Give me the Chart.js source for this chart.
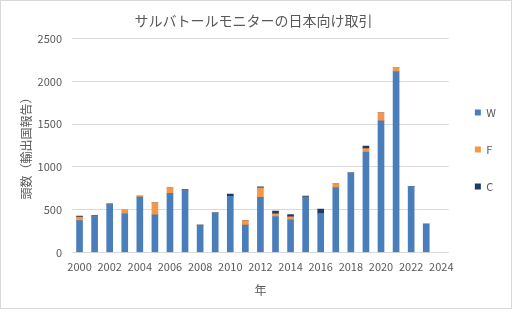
<!DOCTYPE html>
<html>
<head>
<meta charset="utf-8">
<script src="https://cdn.jsdelivr.net/npm/chart.js@4"></script>
<style>
  html, body { margin: 0; padding: 0; background: #ffffff; }
  #wrap { position: absolute; left: 0; top: 0; width: 512px; height: 309px; box-sizing: border-box; border: 1px solid #d9d9d9; background: #fff; }
  canvas { display: block; }
</style>
</head>
<body>
<div id="wrap"><canvas id="c" width="510" height="307"></canvas></div>
<script>
const years = [2000, 2001, 2002, 2003, 2004, 2005, 2006, 2007, 2008, 2009, 2010, 2011,
               2012, 2013, 2014, 2015, 2016, 2017, 2018, 2019, 2020, 2021, 2022, 2023];
const seriesW = [372, 420, 560, 452, 648, 440, 692, 724, 320, 464, 656, 320,
                 644, 420, 380, 648, 452, 760, 932, 1175, 1540, 2117, 772, 332];
const seriesF = [40, 0, 0, 44, 12, 140, 68, 0, 0, 0, 0, 52,
                 112, 30, 36, 0, 0, 44, 0, 40, 95, 47, 0, 0];
const seriesC = [12, 12, 8, 0, 0, 0, 0, 12, 0, 0, 28, 0,
                 12, 35, 28, 12, 56, 0, 0, 28, 0, 0, 0, 0];
const xTicks = [2000, 2002, 2004, 2006, 2008, 2010, 2012, 2014, 2016, 2018, 2020, 2022, 2024];
const yTicks = [0, 500, 1000, 1500, 2000, 2500];

const FONT = '"Noto Sans CJK JP", "Noto Sans", sans-serif';
const GREY = '#595959';

function pts(vals) { return years.map((y, i) => ({ x: y, y: vals[i] })); }

new Chart(document.getElementById('c'), {
  type: 'bar',
  data: {
    datasets: [
      { label: 'W', data: pts(seriesW), backgroundColor: '#4a7ebb', barThickness: 6 },
      { label: 'F', data: pts(seriesF), backgroundColor: '#f79646', barThickness: 6 },
      { label: 'C', data: pts(seriesC), backgroundColor: '#1f3a68', barThickness: 6 }
    ]
  },
  options: {
    responsive: false,
    animation: false,
    layout: { padding: { left: 0, right: 5, top: 0, bottom: 10 } },
    plugins: {
      title: {
        display: true,
        text: 'サルバトールモニターの日本向け取引',
        color: GREY,
        font: { family: FONT, size: 14, weight: 'normal' },
        padding: { top: 11, bottom: 10 }
      },
      legend: {
        position: 'right',
        labels: {
          color: GREY,
          font: { family: FONT, size: 11 },
          boxWidth: 6,
          boxHeight: 6,
          padding: 26
        }
      },
      tooltip: { enabled: false }
    },
    scales: {
      x: {
        type: 'linear',
        stacked: true,
        offset: false,
        min: 1999.5,
        max: 2024.5,
        afterBuildTicks: (axis) => { axis.ticks = xTicks.map(v => ({ value: v })); },
        grid: { display: false, drawTicks: false, offset: false },
        border: { display: false },
        ticks: {
          color: GREY,
          font: { family: FONT, size: 11 },
          padding: 8,
          maxRotation: 0,
          autoSkip: false,
          callback: (v) => String(v)
        },
        title: {
          display: true,
          text: '年',
          color: GREY,
          font: { family: FONT, size: 12 },
          padding: { top: 2, bottom: 0 }
        }
      },
      y: {
        stacked: true,
        min: 0,
        max: 2500,
        afterBuildTicks: (axis) => { axis.ticks = yTicks.map(v => ({ value: v })); },
        afterFit: (axis) => { axis.width = 71; },
        grid: { color: '#d9d9d9', lineWidth: 1, drawTicks: false },
        border: { display: false },
        ticks: {
          color: GREY,
          font: { family: FONT, size: 11 },
          padding: 10,
          callback: (v) => String(v)
        },
        title: {
          display: true,
          text: '頭数（輸出国報告）',
          color: GREY,
          font: { family: FONT, size: 12 },
          padding: { top: 18, bottom: 0 }
        }
      }
    }
  }
});
</script>
</body>
</html>
